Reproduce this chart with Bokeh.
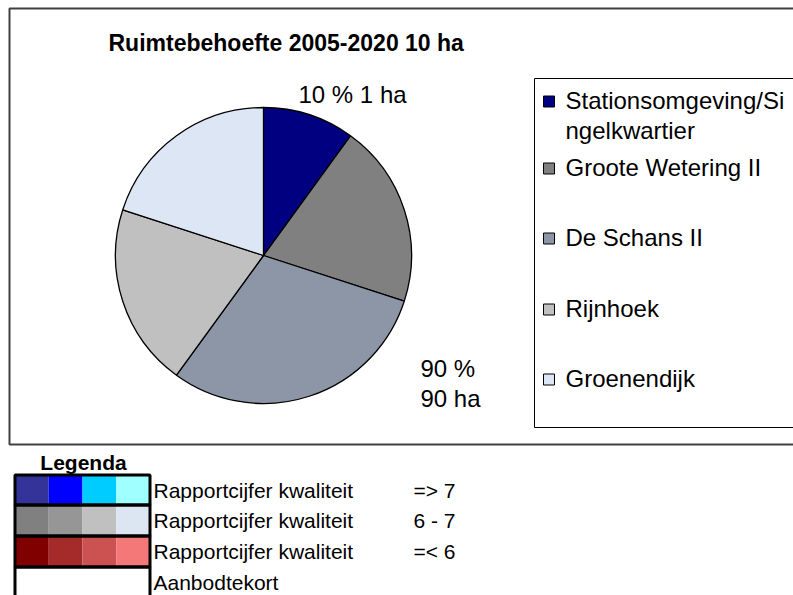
import numpy as np
from bokeh.plotting import figure
from bokeh.models import Range1d
from bokeh.embed import file_html
from bokeh.resources import INLINE
from bokeh.core.properties import value

# ---------------- data ----------------
title = "Ruimtebehoefte 2005-2020 10 ha"
categories = ["Stationsomgeving/Singelkwartier", "Groote Wetering II",
              "De Schans II", "Rijnhoek", "Groenendijk"]
legend_lines = [["Stationsomgeving/Si", "ngelkwartier"], ["Groote Wetering II"],
                ["De Schans II"], ["Rijnhoek"], ["Groenendijk"]]
shares = [10, 20, 30, 20, 20]
slice_colors = ["#000080", "#808080", "#8C96A6", "#C0C0C0", "#DCE6F4"]
label_top = ["10 % 1 ha"]
label_bottom = ["90 %", "90 ha"]

legenda_title = "Legenda"
legenda_rows = ["Rapportcijfer kwaliteit", "Rapportcijfer kwaliteit",
                "Rapportcijfer kwaliteit", "Aanbodtekort"]
legenda_ranges = ["=> 7", "6 - 7", "=< 6", ""]
legenda_colors = [
    ["#333399", "#0000FF", "#00CCFF", "#A0FFFF"],
    ["#808080", "#969696", "#C0C0C0", "#DCE6F2"],
    ["#800000", "#A52A2A", "#CC5252", "#F47878"],
    ["#FFFFFF", "#FFFFFF", "#FFFFFF", "#FFFFFF"],
]

# ---------------- layout helpers (page pixels -> data) ----------------
W, H = 793, 595
def X(px):
    return px
def Y(py):
    return H - py

FONT = value("Liberation Sans")

p = figure(width=W, height=H, x_range=Range1d(0, W), y_range=Range1d(0, H),
           x_axis_type=None, y_axis_type=None, toolbar_location=None,
           output_backend="svg", min_border=0)
p.grid.visible = False
p.outline_line_color = None
p.background_fill_color = "white"
p.border_fill_color = "white"

# outer chart box (right edge off-page)
p.quad(left=[X(9)], right=[W + 50], top=[Y(8)], bottom=[Y(444)],
       fill_color=None, line_color="#404040", line_width=2)

# pie
total = float(sum(shares))
cum = np.concatenate([[0.0], np.cumsum(shares) / total])
start = np.pi / 2 - 2 * np.pi * cum[:-1]
end = np.pi / 2 - 2 * np.pi * cum[1:]
cx, cy, r = X(263), Y(255), 148
p.wedge(x=[cx] * len(shares), y=[cy] * len(shares), radius=r,
        start_angle=list(start), end_angle=list(end), direction="clock",
        fill_color=slice_colors, line_color="black", line_width=1.3)

# title
p.text(x=[X(108)], y=[Y(42)], text=[title], text_font=FONT,
       text_font_size="23px", text_font_style="bold", text_baseline="middle",
       text_align="left", text_color="black")

# data labels
p.text(x=[X(298)], y=[Y(94)], text=label_top, text_font=FONT,
       text_font_size="24px", text_baseline="middle", text_color="black")
p.text(x=[X(420)] * 2, y=[Y(368), Y(398)], text=label_bottom, text_font=FONT,
       text_font_size="24px", text_baseline="middle", text_color="black")

# legend box
p.quad(left=[X(534)], right=[W + 50], top=[Y(78)], bottom=[Y(427)],
       fill_color=None, line_color="black", line_width=1)
entry_y = [101, 168, 238, 309, 379]
p.rect(x=[X(548.5)] * len(categories), y=[Y(v) for v in entry_y], width=11,
       height=11, fill_color=slice_colors, line_color="black", line_width=1)
tx, ty, tt = [], [], []
for i, lines in enumerate(legend_lines):
    for j, s in enumerate(lines):
        tx.append(X(565))
        ty.append(Y(entry_y[i] - 1 + 30 * j))
        tt.append(s)
p.text(x=tx, y=ty, text=tt, text_font=FONT, text_font_size="24px",
       text_baseline="middle", text_color="black")

# bottom "Legenda"
p.text(x=[X(83)], y=[Y(462)], text=[legenda_title], text_font=FONT,
       text_font_size="21px", text_font_style="bold", text_align="center",
       text_baseline="middle", text_color="black")
row_edges = [474.5, 504.5, 535.5, 566.5, 600.5]
x0, cw = 14.5, 33.75
cl, cr, ct, cb, cc = [], [], [], [], []
for ri, cols in enumerate(legenda_colors):
    for ci, col in enumerate(cols):
        cl.append(X(x0 + ci * cw)); cr.append(X(x0 + (ci + 1) * cw))
        ct.append(Y(row_edges[ri])); cb.append(Y(row_edges[ri + 1]))
        cc.append(col)
p.quad(left=cl, right=cr, top=ct, bottom=cb, fill_color=cc, line_color=None)
nrows = len(legenda_colors)
p.quad(left=[X(x0)] * nrows, right=[X(x0 + 4 * cw)] * nrows,
       top=[Y(row_edges[i]) for i in range(nrows)],
       bottom=[Y(row_edges[i + 1]) for i in range(nrows)],
       fill_color=None, line_color="black", line_width=3)
mid = [489.5, 520, 551, 582]
p.text(x=[X(153)] * nrows, y=[Y(m) for m in mid], text=legenda_rows,
       text_font=FONT, text_font_size="21px", text_baseline="middle",
       text_color="black")
p.text(x=[X(413)] * nrows, y=[Y(m) for m in mid], text=legenda_ranges,
       text_font=FONT, text_font_size="21px", text_baseline="middle",
       text_color="black")

open("out.html", "w").write(file_html(p, INLINE))
